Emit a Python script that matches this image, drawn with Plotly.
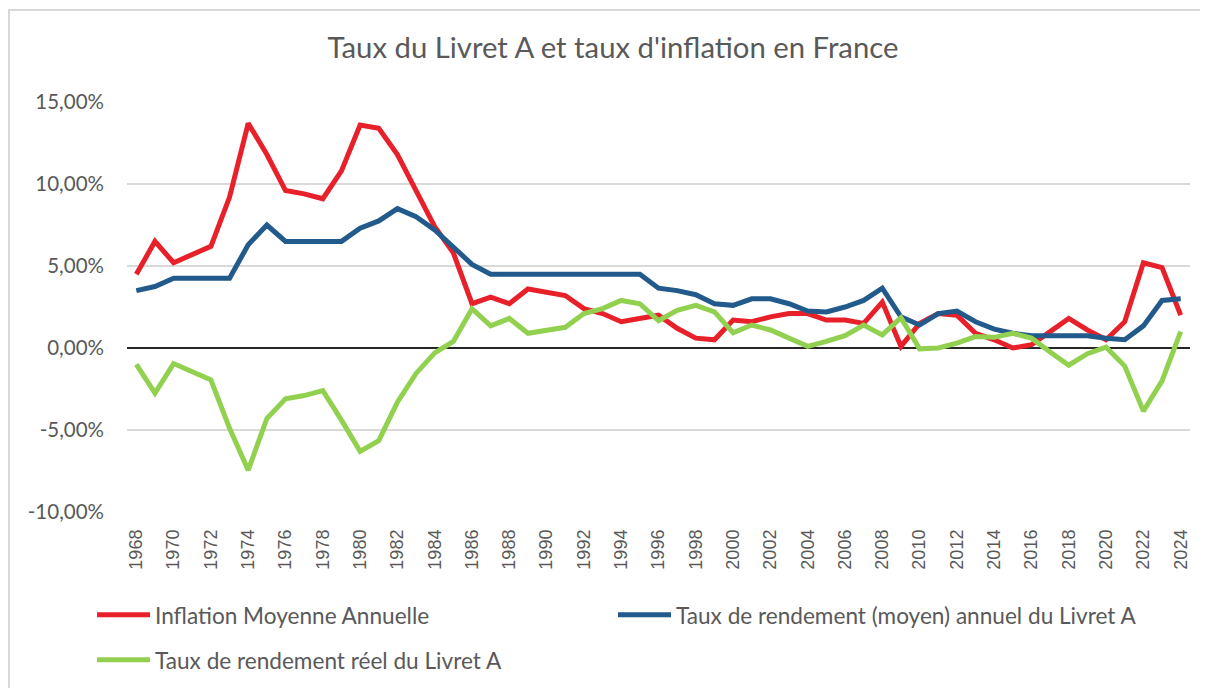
import plotly.graph_objects as go

years = list(range(1968, 2025))

inflation = [4.5, 6.5, 5.2, 5.7, 6.2, 9.2, 13.7, 11.8, 9.6, 9.4,
             9.1, 10.8, 13.6, 13.4, 11.8, 9.6, 7.4, 5.8, 2.7, 3.1,
             2.7, 3.6, 3.4, 3.2, 2.4, 2.1, 1.6, 1.8, 2.0, 1.2,
             0.6, 0.5, 1.7, 1.6, 1.9, 2.1, 2.1, 1.7, 1.7, 1.5,
             2.8, 0.1, 1.5, 2.1, 2.0, 0.9, 0.5, 0.0, 0.2, 1.0,
             1.8, 1.1, 0.5, 1.6, 5.2, 4.9, 2.0]

livret_a = [3.5, 3.75, 4.25, 4.25, 4.25, 4.25, 6.3, 7.5, 6.5, 6.5,
            6.5, 6.5, 7.3, 7.75, 8.5, 8.0, 7.2, 6.2, 5.1, 4.5,
            4.5, 4.5, 4.5, 4.5, 4.5, 4.5, 4.5, 4.5, 3.65, 3.5,
            3.25, 2.7, 2.6, 3.0, 3.0, 2.7, 2.25, 2.2, 2.5, 2.9,
            3.65, 1.9, 1.4, 2.1, 2.25, 1.6, 1.15, 0.9, 0.75, 0.75,
            0.75, 0.75, 0.6, 0.5, 1.35, 2.9, 3.0]

reel = [-1.0, -2.75, -0.95, -1.45, -1.95, -4.9, -7.45, -4.3, -3.1, -2.9,
        -2.6, -4.4, -6.3, -5.65, -3.3, -1.55, -0.3, 0.4, 2.4, 1.35,
        1.8, 0.9, 1.06, 1.26, 2.1, 2.4, 2.9, 2.7, 1.67, 2.3,
        2.6, 2.2, 0.93, 1.4, 1.1, 0.6, 0.1, 0.4, 0.75, 1.4,
        0.8, 1.85, -0.05, 0.0, 0.3, 0.7, 0.65, 0.9, 0.6, -0.25,
        -1.05, -0.35, 0.05, -1.1, -3.85, -2.0, 1.0]

names = ["Inflation Moyenne Annuelle",
         "Taux de rendement (moyen) annuel du Livret A",
         "Taux de rendement réel du Livret A"]
colors = ["#E8202A", "#215A8B", "#92D050"]

y_tickvals = [-10, -5, 0, 5, 10, 15]
y_ticktext = ["-10,00%", "-5,00%", "0,00%", "5,00%", "10,00%", "15,00%"]
x_tickvals = list(range(1968, 2025, 2))

# the page body adds an 8px offset; figure is sized to fit the window
W, H = 1200, 680
ML, MR, MT, MB = 119, 18, 94, 176
PW, PH = W - ML - MR, H - MT - MB

fig = go.Figure()
series = [inflation, livret_a, reel]
legends = ["legend", "legend2", "legend3"]
for s, n, c, lg in zip(series, names, colors, legends):
    fig.add_trace(go.Scatter(x=years, y=s, name=n, mode="lines",
                             line=dict(color=c, width=5), legend=lg,
                             showlegend=True))

txt = "#595959"
leg_font = dict(family="Lato", size=22.6, color=txt)


def leg(xpx, ypx):
    return dict(orientation="h", x=xpx / W, xref="container", xanchor="left",
                y=1 - ypx / H, yref="container", yanchor="middle",
                itemwidth=53, font=leg_font, bgcolor="rgba(0,0,0,0)",
                visible=True)


fig.update_layout(
    width=W, height=H,
    showlegend=True,
    margin=dict(l=ML, r=MR, t=MT, b=MB),
    paper_bgcolor="white", plot_bgcolor="white",
    title=dict(text="Taux du Livret A et taux d'inflation en France",
               x=605 / W, xref="container", xanchor="center",
               y=1 - 40 / H, yref="container", yanchor="middle",
               font=dict(family="Lato", size=29.3, color=txt)),
    xaxis=dict(range=[1967.5, 2024.5], tickvals=x_tickvals,
               ticktext=[str(v) for v in x_tickvals], tickangle=-90,
               showgrid=False, zeroline=False, showline=False,
               ticks="", ticklen=0, ticklabelstandoff=13,
               tickfont=dict(family="Liberation Sans", size=18, color=txt),
               fixedrange=True),
    yaxis=dict(range=[-10, 15], tickvals=y_tickvals, ticktext=y_ticktext,
               showgrid=True, gridcolor="#D9D9D9", gridwidth=1.5,
               zeroline=True, zerolinecolor="#262626", zerolinewidth=1.5,
               showline=False, ticks="", ticklen=0, ticklabelstandoff=22,
               tickfont=dict(family="Lato", size=20.5, color=txt),
               fixedrange=True),
    legend=leg(84, 607),
    legend2=leg(605, 607),
    legend3=leg(84, 652),
    shapes=[dict(type="rect", xref="paper", yref="paper",
                 x0=(1 - ML) / PW, x1=(W + 20 - ML) / PW,
                 y0=(MT + PH - (H + 20)) / PH, y1=(MT + PH - 2) / PH,
                 line=dict(color="#D9D9D9", width=2), layer="below")],
)

fig.write_html("out.html")
